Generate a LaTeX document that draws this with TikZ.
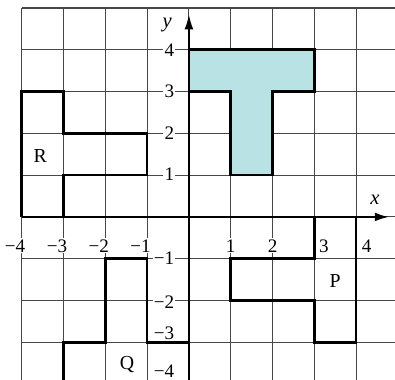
\documentclass[tikz,border=0pt]{standalone}
\usepackage{fontspec}
\setmainfont{Liberation Serif}
\usetikzlibrary{arrows.meta}
\definecolor{tfill}{HTML}{B8E2E4}
\begin{document}
\begin{tikzpicture}[
  gridline/.style={line width=0.75pt, draw=black!72},
  shapeline/.style={line width=1.8pt, line join=miter},
  xaxisline/.style={line width=1.8pt, -{Latex[length=10pt,width=6pt]}},
  yaxisline/.style={line width=1.1pt, -{Latex[length=10pt,width=6pt]}},
  lab/.style={fill=white, inner sep=0.8pt, font=\fontsize{13}{15}\selectfont},
  shapelab/.style={font=\fontsize{13.5}{15}\selectfont},
]
\useasboundingbox (-4.52,-3.9) rectangle (4.93,5.19);
\draw[gridline] (-4,-3.9) grid (4.93,5);
% axis tick labels
\node[lab, anchor=base east] (xm4) at (-3.88,-0.84) {−4};
\node[lab, anchor=base east] (xm3) at (-2.88,-0.84) {−3};
\node[lab, anchor=base east] (xm2) at (-1.88,-0.84) {−2};
\node[lab, anchor=base east] (xm1) at (-0.88,-0.84) {−1};
\node[lab, anchor=base] (xp1) at (1,-0.84) {1};
\node[lab, anchor=base] (xp2) at (2,-0.84) {2};
\node[lab, anchor=base] (xp3) at (3.23,-0.84) {3};
\node[lab, anchor=base] (xp4) at (4.25,-0.84) {4};
\node[lab, anchor=east] (yp4) at (-0.32,4) {4};
\node[lab, anchor=east] (yp3) at (-0.32,3) {3};
\node[lab, anchor=east] (yp2) at (-0.32,2) {2};
\node[lab, anchor=east] (yp1) at (-0.32,1.02) {1};
\node[lab, anchor=east] (ym1) at (-0.32,-0.98) {−1};
\node[lab, anchor=east] (ym2) at (-0.32,-2.05) {−2};
\node[lab, anchor=east] (ym3) at (-0.32,-2.78) {−3};
\node[lab, anchor=east] (ym4) at (-0.32,-3.7) {−4};
% shapes
\filldraw[fill=tfill, shapeline] (0,4) -- (3,4) -- (3,3) -- (2,3) -- (2,1) -- (1,1) -- (1,3) -- (0,3) -- cycle;
\draw[shapeline] (-4,0) -- (-4,3) -- (-3,3) -- (-3,2) -- (-1,2) -- (-1,1) -- (-3,1) -- (-3,0);
\draw[shapeline] (3,0) -- (3,-1) -- (1,-1) -- (1,-2) -- (3,-2) -- (3,-3) -- (4,-3) -- (4,0);
\draw[shapeline] (-3,-3.9) -- (-3,-3) -- (-2,-3) -- (-2,-1) -- (-1,-1) -- (-1,-3) -- (0,-3) -- (0,-3.9);
% axes
\coordinate (xl) at (-4,0);
\coordinate (xr) at (4.8,0);
\coordinate (yb) at (0,-3.9);
\coordinate (yt) at (0,4.84);
\draw[xaxisline] (xl) -- (xr);
\draw[yaxisline] (yb) -- (yt);
\node[font=\fontsize{14}{16}\selectfont\itshape] (xlab) at (4.45,0.42) {x};
\node[font=\fontsize{14}{16}\selectfont\itshape] (ylab) at (-0.52,4.6) {y};
% shape labels
\node[shapelab] (R) at (-3.56,1.45) {R};
\node[shapelab] (P) at (3.5,-1.53) {P};
\node[shapelab] (Q) at (-1.48,-3.54) {Q};
\end{tikzpicture}
\end{document}
